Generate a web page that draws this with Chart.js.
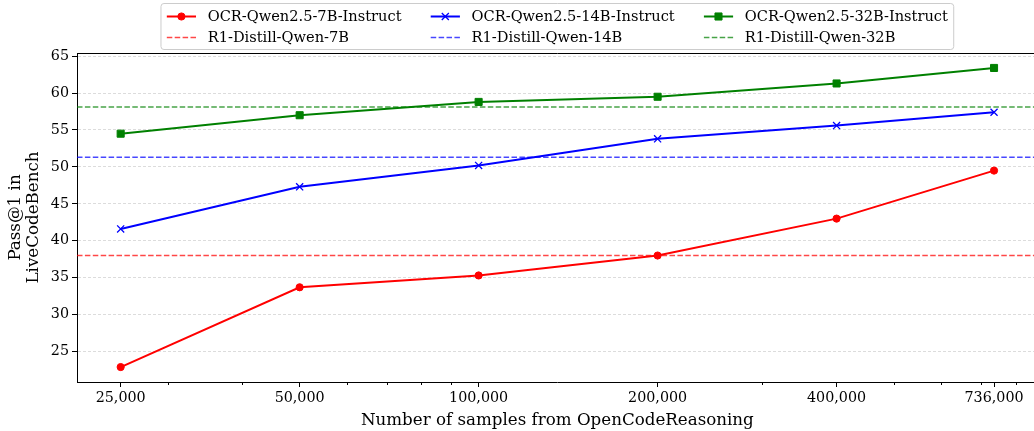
<!DOCTYPE html>
<html><head><meta charset="utf-8">
<script src="https://cdn.jsdelivr.net/npm/chart.js@4.4.1/dist/chart.umd.min.js"></script>
<style>
html,body{margin:0;padding:0;background:#fff;overflow:hidden;}
#wrap{position:relative;width:1044px;height:431px;}
canvas{display:block;}
</style></head><body>
<div id="wrap"><canvas id="c" width="1044" height="431"></canvas></div>
<script>
// ---- data ----
const samples = [25000, 50000, 100000, 200000, 400000, 736000];
const sampleLabels = ['25,000', '50,000', '100,000', '200,000', '400,000', '736,000'];
const minorTicks = [30000, 40000, 60000, 70000, 80000, 90000, 300000, 500000, 600000, 700000, 800000];
const ocr7b  = [22.9, 33.7, 35.3, 38.0, 43.0, 49.5];
const ocr14b = [41.6, 47.3, 50.2, 53.8, 55.6, 57.4];
const ocr32b = [54.5, 57.0, 58.8, 59.5, 61.3, 63.4];
const r1Distill7b = 38.0;
const r1Distill14b = 51.3;
const r1Distill32b = 58.1;
const yTicks = [25, 30, 35, 40, 45, 50, 55, 60, 65];
const seriesNames = ['OCR-Qwen2.5-7B-Instruct', 'OCR-Qwen2.5-14B-Instruct', 'OCR-Qwen2.5-32B-Instruct'];
const baselineNames = ['R1-Distill-Qwen-7B', 'R1-Distill-Qwen-14B', 'R1-Distill-Qwen-32B'];

// axis limits (matplotlib-like 5% margins)
const X_MIN = 21110, X_MAX = 871600;
const Y_MIN = 20.875, Y_MAX = 65.425;

const FONT = '"DejaVu Serif", "Liberation Serif", serif';

function pts(xs, ys) { return xs.map((x, i) => ({x: x, y: ys[i]})); }
function hline(v) { return [{x: X_MIN, y: v}, {x: X_MAX, y: v}]; }

const datasets = [
  {label: seriesNames[0], data: pts(samples, ocr7b), borderColor: 'red', backgroundColor: 'red',
   borderWidth: 2, pointStyle: 'circle', pointRadius: 3.6, pointBorderWidth: 1, tension: 0},
  {label: baselineNames[0], data: hline(r1Distill7b), borderColor: 'rgba(255,0,0,0.72)',
   borderWidth: 1.5, borderDash: [5.5, 2.4], pointRadius: 0, tension: 0},
  {label: seriesNames[1], data: pts(samples, ocr14b), borderColor: 'blue', backgroundColor: 'blue',
   borderWidth: 2, pointStyle: 'crossRot', pointRadius: 5, pointBorderWidth: 1.3, tension: 0},
  {label: baselineNames[1], data: hline(r1Distill14b), borderColor: 'rgba(0,0,255,0.72)',
   borderWidth: 1.5, borderDash: [5.5, 2.4], pointRadius: 0, tension: 0},
  {label: seriesNames[2], data: pts(samples, ocr32b), borderColor: 'green', backgroundColor: 'green',
   borderWidth: 2, pointStyle: 'rect', pointRadius: 5, pointBorderWidth: 1, tension: 0},
  {label: baselineNames[2], data: hline(r1Distill32b), borderColor: 'rgba(0,128,0,0.72)',
   borderWidth: 1.5, borderDash: [5.5, 2.4], pointRadius: 0, tension: 0}
];

const framePlugin = {
  id: 'frame',
  afterDraw(chart) {
    const ctx = chart.ctx, a = chart.chartArea, xs = chart.scales.x;
    ctx.save();
    ctx.strokeStyle = '#000'; ctx.lineWidth = 1;
    ctx.beginPath(); ctx.moveTo(a.left, Math.round(a.top) + 0.5); ctx.lineTo(a.right, Math.round(a.top) + 0.5); ctx.stroke();
    ctx.beginPath(); ctx.moveTo(Math.round(a.right) - 0.5, a.top); ctx.lineTo(Math.round(a.right) - 0.5, a.bottom); ctx.stroke();
    minorTicks.forEach(v => {
      const px = Math.round(xs.getPixelForValue(v)) + 0.5;
      ctx.beginPath(); ctx.moveTo(px, a.bottom); ctx.lineTo(px, a.bottom + 3); ctx.stroke();
    });
    ctx.restore();
    drawLegend(chart);
  }
};

function drawMarker(ctx, style, x, y, r, color, bw) {
  if (Chart.helpers && Chart.helpers.drawPoint) {
    ctx.save();
    ctx.fillStyle = color; ctx.strokeStyle = color; ctx.lineWidth = bw;
    Chart.helpers.drawPoint(ctx, {pointStyle: style, radius: r, borderWidth: bw, rotation: 0}, x, y);
    ctx.restore();
  }
}

function drawLegend(chart) {
  const ctx = chart.ctx, a = chart.chartArea;
  const fs = 14.6;
  ctx.save();
  ctx.font = fs + 'px ' + FONT;
  const ds = chart.data.datasets;
  const cols = [[ds[0], ds[1]], [ds[2], ds[3]], [ds[4], ds[5]]];
  const handleLen = 2 * fs, textPad = 0.8 * fs, colSp = 2 * fs, bPad = 0.4 * fs;
  const colW = cols.map(c => handleLen + textPad + Math.max(...c.map(d => ctx.measureText(d.label).width)));
  const boxW = 2 * bPad + colW.reduce((s, w) => s + w, 0) + colSp * (cols.length - 1);
  const cx = (a.left + a.right) / 2;
  const boxL = cx - boxW / 2, boxT = 3.5, boxH = 46;
  const r = 3;
  ctx.beginPath();
  ctx.moveTo(boxL + r, boxT);
  ctx.lineTo(boxL + boxW - r, boxT); ctx.quadraticCurveTo(boxL + boxW, boxT, boxL + boxW, boxT + r);
  ctx.lineTo(boxL + boxW, boxT + boxH - r); ctx.quadraticCurveTo(boxL + boxW, boxT + boxH, boxL + boxW - r, boxT + boxH);
  ctx.lineTo(boxL + r, boxT + boxH); ctx.quadraticCurveTo(boxL, boxT + boxH, boxL, boxT + boxH - r);
  ctx.lineTo(boxL, boxT + r); ctx.quadraticCurveTo(boxL, boxT, boxL + r, boxT);
  ctx.closePath();
  ctx.fillStyle = 'rgba(255,255,255,0.8)'; ctx.fill();
  ctx.strokeStyle = '#cccccc'; ctx.lineWidth = 1; ctx.stroke();
  const rowsY = [16.5, 37.5];
  let x0 = boxL + bPad;
  cols.forEach((c, ci) => {
    c.forEach((d, ri) => {
      const y = rowsY[ri];
      ctx.save();
      ctx.strokeStyle = d.borderColor; ctx.lineWidth = d.borderWidth;
      ctx.setLineDash(d.borderDash || []);
      ctx.beginPath(); ctx.moveTo(x0, y); ctx.lineTo(x0 + handleLen, y); ctx.stroke();
      ctx.setLineDash([]);
      ctx.restore();
      if (d.pointRadius > 0) drawMarker(ctx, d.pointStyle, x0 + handleLen / 2, y, d.pointRadius, d.borderColor, d.pointBorderWidth);
      ctx.fillStyle = '#000'; ctx.textAlign = 'left'; ctx.textBaseline = 'middle';
      ctx.font = fs + 'px ' + FONT;
      ctx.fillText(d.label, x0 + handleLen + textPad, y + 1);
    });
    x0 += colW[ci] + colSp;
  });
  ctx.restore();
}

new Chart(document.getElementById('c'), {
  type: 'line',
  data: {datasets: datasets},
  plugins: [framePlugin],
  options: {
    responsive: false,
    animation: false,
    devicePixelRatio: 1,
    layout: {padding: {top: 53, right: 3, bottom: 0, left: 0}},
    plugins: {legend: {display: false}, tooltip: {enabled: false}},
    scales: {
      x: {
        type: 'logarithmic', position: 'bottom', min: X_MIN, max: X_MAX,
        afterBuildTicks: s => { s.ticks = samples.concat(minorTicks).sort((p, q) => p - q).map(v => ({value: v})); },
        afterFit: s => { s.height = 49; },
        ticks: {
          autoSkip: false, maxRotation: 0, color: '#000', padding: 3,
          font: {family: FONT, size: 14.3},
          callback: v => { const i = samples.indexOf(v); return i >= 0 ? sampleLabels[i] : ''; }
        },
        grid: {drawOnChartArea: false, drawTicks: true, tickLength: 5, tickWidth: 1,
               tickColor: c => (c.tick && samples.indexOf(c.tick.value) >= 0) ? '#000' : 'rgba(0,0,0,0)'},
        border: {display: true, color: '#000', width: 1},
        title: {display: true, text: 'Number of samples from OpenCodeReasoning', color: '#000',
                font: {family: FONT, size: 16.7}, padding: {top: 0, bottom: 0}}
      },
      y: {
        type: 'linear', min: Y_MIN, max: Y_MAX,
        afterBuildTicks: s => { s.ticks = yTicks.map(v => ({value: v})); },
        afterFit: s => { s.width = 77; },
        ticks: {color: '#000', padding: 3, font: {family: FONT, size: 14.3}},
        grid: {color: '#dcdcdc', lineWidth: 1, drawTicks: true, tickLength: 5, tickColor: '#000', tickWidth: 1},
        border: {display: true, color: '#000', width: 1, dash: [3, 2]},
        title: {display: true, text: ['Pass@1 in', 'LiveCodeBench'], color: '#000',
                font: {family: FONT, size: 16.7, lineHeight: 1.1}, padding: {top: 6, bottom: 0}}
      }
    }
  }
});
</script>
</body></html>
